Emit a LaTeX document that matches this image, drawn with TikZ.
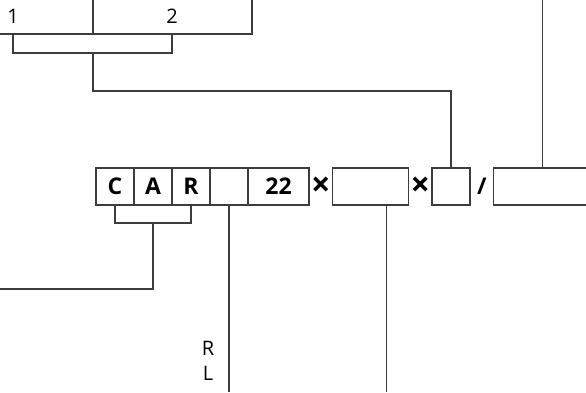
\documentclass[tikz,border=0pt]{standalone}
\usepackage{fontspec}
\setmainfont{Open Sans}
\usetikzlibrary{positioning, calc}
\definecolor{linegray}{RGB}{60,60,60}
\newcommand{\cellfont}{\fontsize{23}{28}\selectfont\bfseries}
\newcommand{\opfont}{\fontsize{34}{34}\selectfont\bfseries}
\newcommand{\lblfont}{\fontsize{20}{24}\selectfont}
\tikzset{
  cell/.style={rectangle, draw=linegray, line width=1.2pt, outer sep=0pt, inner sep=0pt,
               minimum width=38pt, minimum height=37pt, font=\cellfont},
  op/.style={inner sep=0pt, outer sep=0pt, minimum width=23.5pt, minimum height=37pt,
             font=\opfont},
  lbl/.style={inner sep=0pt, font=\lblfont},
  wire/.style={draw=linegray, line width=1.2pt}
}
\begin{document}
\begin{tikzpicture}[x=1pt, y=-1pt]
\useasboundingbox (0,0) rectangle (586,392);
% top pair
\node[cell, minimum width=103pt, minimum height=48pt, anchor=south east] (top1) at (93,34) {};
\node[cell, minimum width=159pt, minimum height=48pt, right=0pt of top1] (top2) {};
\node[lbl] (n1) at (13,16) {1};
\node[lbl] (n2) at (172,16) {2};
% main row
\node[cell, anchor=north west] (c) at (96,168) {C};
\node[cell, right=0pt of c] (a) {A};
\node[cell, right=0pt of a] (r) {R};
\node[cell, right=0pt of r] (e) {};
\node[cell, minimum width=61pt, right=0pt of e] (num) {22};
\node[op, right=0pt of num] (x1) {×};
\node[cell, minimum width=76pt, right=0pt of x1] (b2) {};
\node[op, right=0pt of b2] (x2) {×};
\node[cell, right=0pt of x2] (b3) {};
\node[op, font=\cellfont, right=0pt of b3] (sl) {/};
\node[cell, minimum width=98pt, right=0pt of sl] (b4) {};
\node[lbl] (lr) at (208,348) {R};
\node[lbl] (ll) at (208,373) {L};
% joints and free ends
\coordinate (j1) at ($(top1.south east)+(0,19)$);
\coordinate (j2) at ($(a.south)+(0,18)$);
\coordinate (lout) at (0,289);
\coordinate (eout) at (e.south |- 0,392);
\coordinate (b2at) at ($(b2.south)+(16,0)$);
\coordinate (b2out) at (b2at |- 0,392);
\coordinate (b4out) at (b4.north |- 0,0);
% connectors
\draw[wire] (n1 |- top1.south) -- ++(0,19) -| (n2 |- top2.south);
\draw[wire] (j1) -- ++(0,38) -| (b3.north);
\draw[wire] (c.south) -- ++(0,18) -| (r.south);
\draw[wire] (j2) |- (lout);
\draw[wire] (e.south) -- (eout);
\draw[wire] (b2at) -- (b2out);
\draw[wire] (b4.north) -- (b4out);
\end{tikzpicture}
\end{document}
